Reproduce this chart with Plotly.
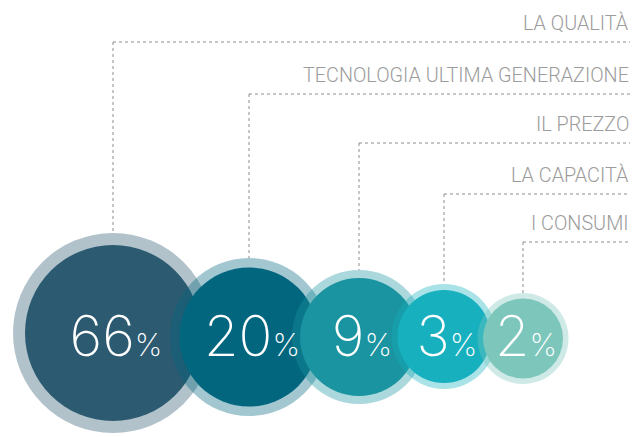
import plotly.graph_objects as go

# ---- data ----
labels = ["LA QUALITÀ", "TECNOLOGIA ULTIMA GENERAZIONE", "IL PREZZO", "LA CAPACITÀ", "I CONSUMI"]
values = [66, 20, 9, 3, 2]

# ---- layout / style (page-pixel coordinates) ----
center_x = [113, 249, 359, 444, 523]
center_y = [333, 337, 337, 336.5, 338.5]
outer_r = [100, 79, 67, 52.5, 45.5]
inner_r = [88, 69.5, 59, 46.5, 40]
leader_y = [42, 94, 143, 194, 242]
inner_rgb = [(44, 90, 112), (2, 102, 127), (26, 148, 160), (22, 176, 190), (124, 198, 187)]
RING_ALPHA = 0.37
W, H = 638, 437
OFF = 8  # default page body margin
LABEL_RIGHT = 631
TEXT_Y = 342
TEXT_DX = 3

shapes = []
for i in range(len(values)):
    r, g, b = inner_rgb[i]
    cx, cy = center_x[i], center_y[i]
    ro, ri = outer_r[i], inner_r[i]
    shapes.append(dict(type="circle", xref="x", yref="y", x0=cx - ro, x1=cx + ro, y0=cy - ro, y1=cy + ro,
                       fillcolor=f"rgba({r},{g},{b},{RING_ALPHA})", line=dict(width=0), layer="below"))
    shapes.append(dict(type="circle", xref="x", yref="y", x0=cx - ri, x1=cx + ri, y0=cy - ri, y1=cy + ri,
                       fillcolor=f"rgb({r},{g},{b})", line=dict(width=0), layer="below"))
    shapes.append(dict(type="line", xref="x", yref="y", x0=cx, x1=W, y0=leader_y[i], y1=leader_y[i],
                       line=dict(color="#8c8c8c", width=1, dash="dot"), layer="below"))
    shapes.append(dict(type="line", xref="x", yref="y", x0=cx, x1=cx, y0=leader_y[i], y1=cy - ro,
                       line=dict(color="#8c8c8c", width=1, dash="dot"), layer="below"))

fig = go.Figure()
fig.add_trace(go.Scatter(
    x=[c + TEXT_DX for c in center_x], y=[TEXT_Y] * len(values), mode="text",
    text=[f"{v}<span style='font-size:31px'>%</span>" for v in values],
    textposition="middle center",
    textfont=dict(family="Inter", size=56, color="white", weight=200),
    hoverinfo="skip", showlegend=False, cliponaxis=False,
))

annotations = []
for i, lab in enumerate(labels):
    annotations.append(dict(x=LABEL_RIGHT, y=leader_y[i] - 19, xref="x", yref="y", text=lab,
                            showarrow=False, xanchor="right", yanchor="middle",
                            font=dict(family="Roboto", size=19.8, color="#9c9c9c", weight=300)))

fig.update_layout(
    width=W - OFF, height=H - OFF,
    margin=dict(l=0, r=0, t=0, b=0),
    paper_bgcolor="white", plot_bgcolor="white",
    xaxis=dict(range=[OFF, W], visible=False, fixedrange=True),
    yaxis=dict(range=[H, OFF], visible=False, fixedrange=True),
    shapes=shapes, annotations=annotations,
)
fig.write_html("out.html")
